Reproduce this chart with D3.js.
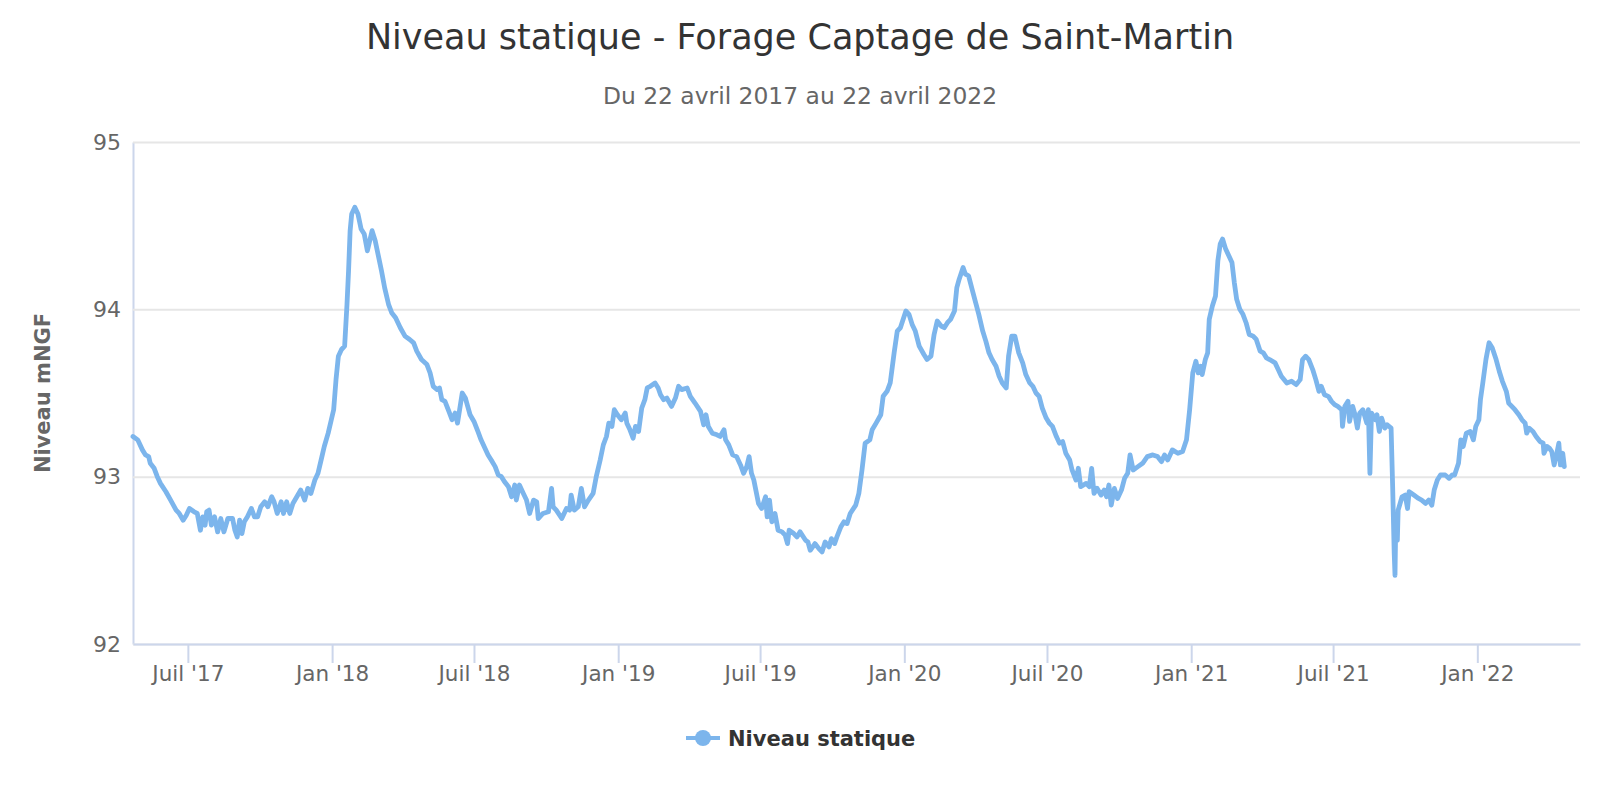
<!DOCTYPE html>
<html>
<head>
<meta charset="utf-8">
<script src="https://cdn.jsdelivr.net/npm/d3@7"></script>
<style>
  body { margin: 0; background: #fff; }
  svg { font-family: "DejaVu Sans", sans-serif; }
</style>
</head>
<body>
<script>
// niveau statique relevé (mNGF)
var dates = [
  "2017-04-22","2017-04-28","2017-05-04","2017-05-08","2017-05-12","2017-05-14","2017-05-19","2017-05-23","2017-05-27","2017-06-03",
  "2017-06-09","2017-06-16","2017-06-20","2017-06-25","2017-06-29","2017-07-03","2017-07-09","2017-07-13","2017-07-17","2017-07-20",
  "2017-07-23","2017-07-25","2017-07-28","2017-07-31","2017-08-04","2017-08-08","2017-08-12","2017-08-16","2017-08-21","2017-08-27",
  "2017-08-30","2017-09-02","2017-09-05","2017-09-08","2017-09-11","2017-09-15","2017-09-20","2017-09-24","2017-09-28","2017-10-02",
  "2017-10-07","2017-10-11","2017-10-16","2017-10-19","2017-10-23","2017-10-28","2017-10-31","2017-11-04","2017-11-08","2017-11-12",
  "2017-11-17","2017-11-22","2017-11-27","2017-12-01","2017-12-05","2017-12-10","2017-12-14","2017-12-16","2017-12-19","2017-12-22",
  "2017-12-27","2017-12-31","2018-01-03","2018-01-06","2018-01-09","2018-01-13","2018-01-17","2018-01-20","2018-01-22","2018-01-24",
  "2018-01-26","2018-01-30","2018-02-03","2018-02-07","2018-02-11","2018-02-15","2018-02-18","2018-02-21","2018-02-25","2018-03-01",
  "2018-03-05","2018-03-09","2018-03-14","2018-03-18","2018-03-23","2018-03-29","2018-04-04","2018-04-10","2018-04-15","2018-04-19",
  "2018-04-25","2018-05-02","2018-05-06","2018-05-10","2018-05-15","2018-05-18","2018-05-21","2018-05-25","2018-05-30","2018-06-03",
  "2018-06-07","2018-06-10","2018-06-14","2018-06-16","2018-06-20","2018-06-23","2018-06-26","2018-07-01","2018-07-06","2018-07-10",
  "2018-07-15","2018-07-19","2018-07-23","2018-07-28","2018-08-01","2018-08-05","2018-08-09","2018-08-14","2018-08-18","2018-08-22",
  "2018-08-24","2018-08-28","2018-09-02","2018-09-06","2018-09-10","2018-09-15","2018-09-19","2018-09-21","2018-09-27","2018-10-04",
  "2018-10-08","2018-10-10","2018-10-14","2018-10-21","2018-10-27","2018-10-31","2018-11-02","2018-11-06","2018-11-11","2018-11-15",
  "2018-11-19","2018-11-24","2018-11-30","2018-12-04","2018-12-09","2018-12-13","2018-12-17","2018-12-20","2018-12-24","2018-12-27",
  "2018-12-31","2019-01-05","2019-01-10","2019-01-12","2019-01-16","2019-01-20","2019-01-23","2019-01-27","2019-01-31","2019-02-04",
  "2019-02-07","2019-02-11","2019-02-17","2019-02-21","2019-02-24","2019-02-28","2019-03-04","2019-03-10","2019-03-15","2019-03-19",
  "2019-03-23","2019-03-30","2019-04-03","2019-04-09","2019-04-16","2019-04-20","2019-04-23","2019-04-26","2019-05-01","2019-05-07",
  "2019-05-11","2019-05-16","2019-05-18","2019-05-22","2019-05-27","2019-06-01","2019-06-06","2019-06-10","2019-06-14","2019-06-17",
  "2019-06-20","2019-06-23","2019-06-26","2019-06-29","2019-07-03","2019-07-08","2019-07-10","2019-07-13","2019-07-16","2019-07-20",
  "2019-07-24","2019-07-29","2019-08-02","2019-08-05","2019-08-07","2019-08-13","2019-08-17","2019-08-21","2019-08-28","2019-08-31",
  "2019-09-03","2019-09-09","2019-09-14","2019-09-18","2019-09-22","2019-09-27","2019-09-30","2019-10-04","2019-10-07","2019-10-12",
  "2019-10-16","2019-10-20","2019-10-24","2019-10-31","2019-11-04","2019-11-08","2019-11-12","2019-11-18","2019-11-21","2019-11-26",
  "2019-12-02","2019-12-05","2019-12-10","2019-12-14","2019-12-19","2019-12-23","2019-12-27","2020-01-03","2020-01-07","2020-01-11",
  "2020-01-15","2020-01-20","2020-01-26","2020-01-30","2020-02-04","2020-02-08","2020-02-12","2020-02-17","2020-02-21","2020-02-25",
  "2020-02-29","2020-03-05","2020-03-08","2020-03-11","2020-03-16","2020-03-19","2020-03-23","2020-03-28","2020-04-01","2020-04-05",
  "2020-04-10","2020-04-14","2020-04-18","2020-04-22","2020-04-27","2020-05-01","2020-05-05","2020-05-10","2020-05-13","2020-05-17",
  "2020-05-21","2020-05-26","2020-05-31","2020-06-04","2020-06-09","2020-06-13","2020-06-17","2020-06-21","2020-06-25","2020-06-30",
  "2020-07-04","2020-07-08","2020-07-13","2020-07-17","2020-07-21","2020-07-25","2020-07-30","2020-08-02","2020-08-07","2020-08-10",
  "2020-08-13","2020-08-20","2020-08-24","2020-08-27","2020-08-30","2020-09-03","2020-09-08","2020-09-12","2020-09-15","2020-09-18",
  "2020-09-21","2020-09-25","2020-09-29","2020-10-04","2020-10-08","2020-10-12","2020-10-15","2020-10-19","2020-10-25","2020-10-31",
  "2020-11-06","2020-11-13","2020-11-19","2020-11-24","2020-11-28","2020-12-02","2020-12-08","2020-12-15","2020-12-21","2020-12-26",
  "2020-12-30","2021-01-03","2021-01-07","2021-01-10","2021-01-13","2021-01-15","2021-01-19","2021-01-22","2021-01-24","2021-01-28",
  "2021-02-01","2021-02-04","2021-02-07","2021-02-10","2021-02-14","2021-02-18","2021-02-22","2021-02-25","2021-02-28","2021-03-04",
  "2021-03-08","2021-03-12","2021-03-16","2021-03-21","2021-03-25","2021-03-30","2021-04-03","2021-04-07","2021-04-11","2021-04-18",
  "2021-04-22","2021-04-26","2021-05-03","2021-05-09","2021-05-15","2021-05-20","2021-05-23","2021-05-27","2021-05-31","2021-06-05",
  "2021-06-09","2021-06-13","2021-06-16","2021-06-20","2021-06-25","2021-06-29","2021-07-03","2021-07-07","2021-07-12","2021-07-13",
  "2021-07-16","2021-07-20","2021-07-22","2021-07-26","2021-07-29","2021-08-01","2021-08-04","2021-08-08","2021-08-13","2021-08-15",
  "2021-08-17","2021-08-19","2021-08-24","2021-08-26","2021-08-29","2021-09-01","2021-09-05","2021-09-08","2021-09-13","2021-09-15",
  "2021-09-17","2021-09-18","2021-09-19","2021-09-21","2021-09-22","2021-09-27","2021-10-01","2021-10-04","2021-10-06","2021-10-12",
  "2021-10-18","2021-10-22","2021-10-27","2021-10-31","2021-11-04","2021-11-07","2021-11-11","2021-11-15","2021-11-21","2021-11-26",
  "2021-11-30","2021-12-03","2021-12-08","2021-12-11","2021-12-14","2021-12-18","2021-12-23","2021-12-27","2021-12-30","2022-01-03",
  "2022-01-05","2022-01-08","2022-01-12","2022-01-16","2022-01-20","2022-01-25","2022-01-29","2022-02-02","2022-02-07","2022-02-10",
  "2022-02-14","2022-02-18","2022-02-23","2022-02-27","2022-03-03","2022-03-05","2022-03-08","2022-03-13","2022-03-17","2022-03-22",
  "2022-03-26","2022-03-27","2022-03-31","2022-04-03","2022-04-06","2022-04-09","2022-04-12","2022-04-15","2022-04-17","2022-04-20",
  "2022-04-22"
];

var niveau = [
  93.24,93.22,93.16,93.13,93.12,93.08,93.05,93.00,92.96,92.91,
  92.86,92.80,92.78,92.74,92.77,92.81,92.79,92.78,92.68,92.76,
  92.71,92.79,92.80,92.71,92.76,92.67,92.75,92.67,92.75,92.75,
  92.68,92.64,92.74,92.66,92.73,92.76,92.81,92.76,92.76,92.82,
  92.85,92.82,92.88,92.85,92.78,92.85,92.78,92.85,92.78,92.84,
  92.88,92.92,92.86,92.93,92.90,92.98,93.02,93.06,93.12,93.18,
  93.26,93.34,93.40,93.58,93.72,93.76,93.78,94.03,94.23,94.47,
  94.57,94.61,94.57,94.48,94.45,94.35,94.41,94.47,94.41,94.32,
  94.23,94.13,94.03,93.98,93.95,93.89,93.84,93.82,93.80,93.75,
  93.70,93.67,93.62,93.54,93.52,93.53,93.46,93.45,93.39,93.34,
  93.38,93.32,93.44,93.50,93.47,93.42,93.37,93.33,93.27,93.22,
  93.17,93.13,93.10,93.06,93.01,93.00,92.97,92.94,92.88,92.95,
  92.86,92.95,92.90,92.86,92.78,92.86,92.85,92.75,92.78,92.79,
  92.93,92.82,92.80,92.75,92.81,92.80,92.89,92.80,92.82,92.93,
  92.82,92.86,92.90,93.00,93.10,93.19,93.24,93.32,93.30,93.40,
  93.37,93.34,93.38,93.32,93.28,93.23,93.30,93.27,93.41,93.46,
  93.53,93.54,93.56,93.53,93.49,93.46,93.47,93.42,93.47,93.54,
  93.52,93.53,93.48,93.44,93.39,93.31,93.37,93.30,93.26,93.25,
  93.24,93.28,93.22,93.19,93.13,93.12,93.07,93.02,93.06,93.12,
  93.02,92.98,92.91,92.84,92.81,92.88,92.76,92.86,92.73,92.78,
  92.68,92.67,92.65,92.60,92.68,92.66,92.64,92.67,92.62,92.61,
  92.56,92.60,92.57,92.55,92.61,92.58,92.63,92.60,92.64,92.70,
  92.73,92.72,92.78,92.83,92.90,93.04,93.20,93.22,93.28,93.32,
  93.37,93.48,93.51,93.56,93.74,93.87,93.89,93.99,93.97,93.91,
  93.87,93.78,93.73,93.70,93.72,93.85,93.93,93.90,93.89,93.92,
  93.94,93.99,94.13,94.18,94.25,94.21,94.20,94.11,94.04,93.97,
  93.87,93.81,93.74,93.70,93.66,93.60,93.56,93.53,93.72,93.84,
  93.84,93.74,93.68,93.61,93.56,93.54,93.50,93.48,93.41,93.35,
  93.32,93.30,93.24,93.20,93.21,93.14,93.10,93.04,92.98,93.05,
  92.94,92.96,92.94,93.05,92.90,92.93,92.89,92.92,92.88,92.95,
  92.83,92.93,92.87,92.92,92.99,93.02,93.13,93.04,93.06,93.08,
  93.12,93.13,93.12,93.09,93.13,93.10,93.16,93.14,93.15,93.22,
  93.40,93.62,93.69,93.62,93.66,93.61,93.70,93.74,93.94,94.02,
  94.08,94.29,94.39,94.42,94.36,94.32,94.28,94.16,94.06,94.00,
  93.97,93.92,93.85,93.84,93.82,93.75,93.74,93.71,93.70,93.68,
  93.64,93.60,93.56,93.57,93.55,93.58,93.70,93.72,93.70,93.64,
  93.58,93.51,93.54,93.49,93.48,93.45,93.43,93.42,93.40,93.30,
  93.42,93.45,93.33,93.42,93.37,93.29,93.38,93.40,93.32,93.40,
  93.02,93.38,93.34,93.37,93.27,93.35,93.29,93.31,93.29,92.94,
  92.54,92.41,92.74,92.62,92.80,92.88,92.89,92.81,92.91,92.89,
  92.87,92.86,92.84,92.86,92.83,92.92,92.98,93.01,93.01,92.99,
  93.01,93.01,93.08,93.22,93.18,93.26,93.27,93.22,93.30,93.34,
  93.46,93.56,93.70,93.80,93.77,93.70,93.63,93.57,93.51,93.44,
  93.42,93.40,93.37,93.34,93.32,93.26,93.29,93.27,93.24,93.21,
  93.20,93.14,93.18,93.17,93.15,93.07,93.13,93.20,93.07,93.14,
  93.06
];

var yTicks = [92, 93, 94, 95];
var moisCourts = { 0: "Jan", 6: "Juil" };
var titre = "Niveau statique - Forage Captage de Saint-Martin";
var sousTitre = "Du 22 avril 2017 au 22 avril 2022";
var nomSerie = "Niveau statique";
var titreY = "Niveau mNGF";

var width = 1600, height = 800;
var margin = { left: 133, right: 20, top: 142, bottom: 156 };
var couleur = "#7cb5ec";

var parse = d3.utcParse("%Y-%m-%d");
var data = dates.map(function (d, i) {
    return { date: parse(d), value: niveau[i] };
});

var svg = d3.select("body").append("svg")
    .attr("width", width)
    .attr("height", height);

var x = d3.scaleUtc()
    .domain([parse("2017-04-22"), parse("2022-05-12")])
    .range([margin.left, width - margin.right]);

var y = d3.scaleLinear()
    .domain([92, 95])
    .range([height - margin.bottom, margin.top]);

// titres
svg.append("text")
    .attr("x", width / 2).attr("y", 49)
    .attr("text-anchor", "middle")
    .style("font-size", "35px")
    .style("fill", "#333333")
    .text(titre);

svg.append("text")
    .attr("x", width / 2).attr("y", 104)
    .attr("text-anchor", "middle")
    .style("font-size", "23.4px")
    .style("fill", "#666666")
    .text(sousTitre);

// axe Y + grille
var yAxis = svg.append("g")
    .attr("transform", "translate(" + margin.left + ",0)")
    .call(d3.axisLeft(y)
        .tickValues(yTicks)
        .tickSize(-(width - margin.left - margin.right))
        .tickSizeOuter(0)
        .tickPadding(12)
        .tickFormat(d3.format("d")));

yAxis.select(".domain").attr("stroke", "#ccd6eb").attr("stroke-width", 2);
yAxis.selectAll(".tick line").attr("stroke", "#e6e6e6").attr("stroke-width", 2);
yAxis.selectAll(".tick text")
    .style("font-size", "22px")
    .style("fill", "#666666")
    .style("font-family", "DejaVu Sans, sans-serif");

svg.append("text")
    .attr("transform", "translate(43," + ((margin.top + height - margin.bottom) / 2) + ") rotate(-90)")
    .attr("text-anchor", "middle")
    .attr("dy", "0.35em")
    .style("font-size", "21px")
    .style("font-weight", "bold")
    .style("fill", "#666666")
    .text(titreY);

// axe X
var xAxis = svg.append("g")
    .attr("transform", "translate(0," + (height - margin.bottom) + ")")
    .call(d3.axisBottom(x)
        .ticks(d3.utcMonth.every(6))
        .tickSize(19)
        .tickSizeOuter(0)
        .tickPadding(3)
        .tickFormat(function (d) {
            return moisCourts[d.getUTCMonth()] + " '" + d3.utcFormat("%y")(d);
        }));

xAxis.select(".domain").attr("stroke", "#ccd6eb").attr("stroke-width", 2);
xAxis.selectAll(".tick line").attr("stroke", "#ccd6eb").attr("stroke-width", 2);
xAxis.selectAll(".tick text")
    .style("font-size", "21.5px")
    .style("fill", "#666666")
    .style("font-family", "DejaVu Sans, sans-serif");

// série
var line = d3.line()
    .x(function (d) { return x(d.date); })
    .y(function (d) { return y(d.value); });

svg.append("path")
    .datum(data)
    .attr("d", line)
    .attr("fill", "none")
    .attr("stroke", couleur)
    .attr("stroke-width", 4.8)
    .attr("stroke-linejoin", "round")
    .attr("stroke-linecap", "round");

// légende
var legend = svg.append("g").attr("transform", "translate(686,738)");
legend.append("line")
    .attr("x1", 0).attr("x2", 34)
    .attr("stroke", couleur).attr("stroke-width", 4);
legend.append("circle")
    .attr("cx", 17).attr("r", 8)
    .attr("fill", couleur);
legend.append("text")
    .attr("x", 42).attr("dy", "0.36em")
    .style("font-size", "21px")
    .style("font-weight", "bold")
    .style("fill", "#333333")
    .text(nomSerie);
</script>
</body>
</html>
